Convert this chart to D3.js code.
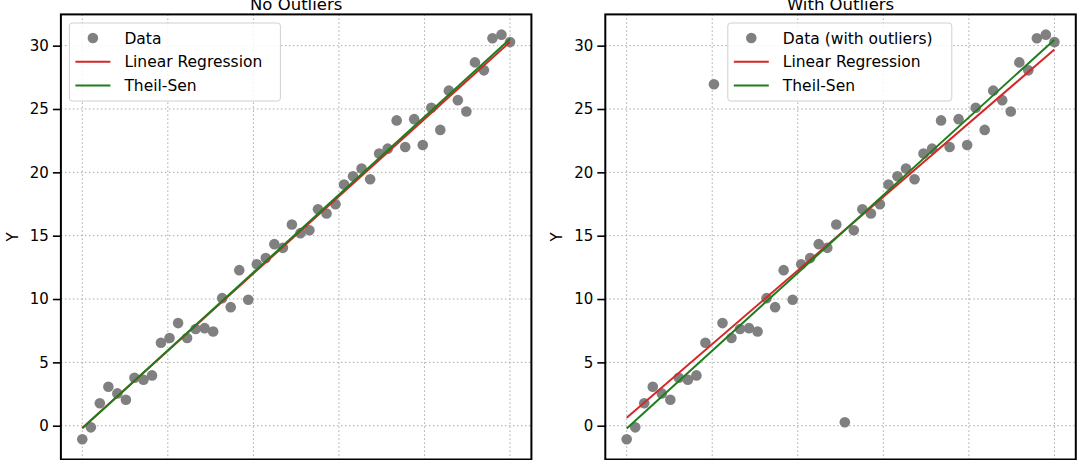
<!DOCTYPE html>
<html>
<head>
<meta charset="utf-8">
<script src="https://cdn.jsdelivr.net/npm/d3@7"></script>
<style>
  body { margin: 0; background: #fff; }
  svg text { font-family: "DejaVu Sans", sans-serif; fill: #000; }
</style>
</head>
<body>
<div id="chart"></div>
<script>
// ---------------------------------------------------------------- DATA
var xValues = [0.00, 0.20, 0.41, 0.61, 0.82, 1.02, 1.22, 1.43, 1.63, 1.84,
               2.04, 2.24, 2.45, 2.65, 2.86, 3.06, 3.27, 3.47, 3.67, 3.88,
               4.08, 4.29, 4.49, 4.69, 4.90, 5.10, 5.31, 5.51, 5.71, 5.92,
               6.12, 6.33, 6.53, 6.73, 6.94, 7.14, 7.35, 7.55, 7.76, 7.96,
               8.16, 8.37, 8.57, 8.78, 8.98, 9.18, 9.39, 9.59, 9.80, 10.00];

var yClean = [-1.07, -0.13, 1.77, 3.08, 2.55, 2.05, 3.79, 3.63, 3.97, 6.55,
              6.92, 8.10, 6.92, 7.63, 7.70, 7.44, 10.07, 9.36, 12.28, 9.94,
              12.75, 13.23, 14.33, 14.04, 15.88, 15.20, 15.43, 17.09, 16.75, 17.48,
              19.04, 19.69, 20.30, 19.46, 21.48, 21.87, 24.10, 22.00, 24.20, 22.16,
              25.10, 23.35, 26.45, 25.70, 24.80, 28.68, 28.05, 30.58, 30.87, 30.28];

var yOutliers = [-1.07, -0.13, 1.77, 3.08, 2.55, 2.05, 3.79, 3.63, 3.97, 6.55,
                 26.95, 8.10, 6.92, 7.63, 7.70, 7.44, 10.07, 9.36, 12.28, 9.94,
                 12.75, 13.23, 14.33, 14.04, 15.88, 0.27, 15.43, 17.09, 16.75, 17.48,
                 19.04, 19.69, 20.30, 19.46, 21.48, 21.87, 24.10, 22.00, 24.20, 22.16,
                 25.10, 23.35, 26.45, 25.70, 24.80, 28.68, 28.05, 30.58, 30.87, 30.28];

var xTicks = [0, 2, 4, 6, 8, 10];
var yTicks = [0, 5, 10, 15, 20, 25, 30];

var panelTitles = ["No Outliers", "With Outliers"];
var dataLabels = ["Data", "Data (with outliers)"];
var lineLabels = ["Linear Regression", "Theil-Sen"];

// ---------------------------------------------------------------- FITS
function linearFit(xs, ys) {
  var mx = d3.mean(xs), my = d3.mean(ys);
  var sxy = 0, sxx = 0;
  for (var i = 0; i < xs.length; i++) {
    sxy += (xs[i] - mx) * (ys[i] - my);
    sxx += (xs[i] - mx) * (xs[i] - mx);
  }
  var slope = sxy / sxx;
  return { slope: slope, intercept: my - slope * mx };
}

// Theil-Sen: spatial median of all pairwise (intercept, slope) solutions
function theilSen(xs, ys) {
  var pts = [];
  for (var i = 0; i < xs.length; i++) {
    for (var j = i + 1; j < xs.length; j++) {
      var s = (ys[j] - ys[i]) / (xs[j] - xs[i]);
      pts.push([ys[i] - s * xs[i], s]);
    }
  }
  var b = d3.median(pts, function(p) { return p[0]; });
  var m = d3.median(pts, function(p) { return p[1]; });
  for (var it = 0; it < 300; it++) {
    var nb = 0, nm = 0, w = 0;
    pts.forEach(function(p) {
      var d = Math.hypot(p[0] - b, p[1] - m);
      if (d < 1e-9) return;
      nb += p[0] / d; nm += p[1] / d; w += 1 / d;
    });
    b = nb / w; m = nm / w;
  }
  return { slope: m, intercept: b };
}

// ---------------------------------------------------------------- DRAW
var W = 1080, H = 460;
var svg = d3.select("#chart").append("svg")
  .attr("width", W).attr("height", H);

var yAll = yClean.concat(yOutliers);
var yMin = d3.min(yAll), yMax = d3.max(yAll);
var yPad = (yMax - yMin) * 0.05;
var y = d3.scaleLinear().domain([yMin - yPad, yMax + yPad]).range([459.5, 14.4]);

var panels = [
  { left: 60.9, ys: yClean, title: panelTitles[0], dataLabel: dataLabels[0], legendW: 211 },
  { left: 605.3, ys: yOutliers, title: panelTitles[1], dataLabel: dataLabels[1], legendW: 224 }
];

var red = "#d62728", green = "#1e7d1e", grey = "#808080";

panels.forEach(function(p) {
  var x = d3.scaleLinear().domain([-0.5, 10.5]).range([p.left, p.left + 470.5]);
  var g = svg.append("g");

  // grid
  g.selectAll(".gx").data(xTicks).enter().append("line")
    .attr("x1", function(d) { return x(d); }).attr("x2", function(d) { return x(d); })
    .attr("y1", y.range()[1]).attr("y2", y.range()[0])
    .attr("stroke", "#a8a8a8").attr("stroke-width", 1).attr("stroke-dasharray", "1.5,2.5");
  g.selectAll(".gy").data(yTicks).enter().append("line")
    .attr("y1", function(d) { return y(d); }).attr("y2", function(d) { return y(d); })
    .attr("x1", x.range()[0]).attr("x2", x.range()[1])
    .attr("stroke", "#a8a8a8").attr("stroke-width", 1).attr("stroke-dasharray", "1.5,2.5");

  // points
  var pts = p.ys.map(function(v, i) { return [xValues[i], v]; });
  g.selectAll("circle").data(pts).enter().append("circle")
    .attr("cx", function(d) { return x(d[0]); })
    .attr("cy", function(d) { return y(d[1]); })
    .attr("r", 5.3).attr("fill", grey);

  // fits
  var lr = linearFit(xValues, p.ys);
  var ts = theilSen(xValues, p.ys);
  var x0 = d3.min(xValues), x1 = d3.max(xValues);
  [[lr, red], [ts, green]].forEach(function(f) {
    g.append("line")
      .attr("x1", x(x0)).attr("y1", y(f[0].intercept + f[0].slope * x0))
      .attr("x2", x(x1)).attr("y2", y(f[0].intercept + f[0].slope * x1))
      .attr("stroke", f[1]).attr("stroke-width", 2);
  });

  // axes (x tick labels fall below the visible area, so only tick marks)
  var yAxis = d3.axisLeft(y).tickValues(yTicks).tickSize(8).tickPadding(4).tickFormat(d3.format("d"));
  var ya = g.append("g").attr("transform", "translate(" + x.range()[0] + ",0)").call(yAxis);
  ya.select(".domain").remove();
  ya.selectAll(".tick line").attr("stroke", "#000").attr("stroke-width", 1.6);
  ya.selectAll(".tick text").attr("font-size", 15).attr("font-family", "DejaVu Sans");

  var xAxis = d3.axisBottom(x).tickValues(xTicks).tickSize(8).tickFormat("");
  var xa = g.append("g").attr("transform", "translate(0," + y.range()[0] + ")").call(xAxis);
  xa.select(".domain").remove();
  xa.selectAll(".tick line").attr("stroke", "#000").attr("stroke-width", 1.6);

  // frame
  g.append("rect")
    .attr("x", x.range()[0]).attr("y", y.range()[1])
    .attr("width", x.range()[1] - x.range()[0]).attr("height", y.range()[0] - y.range()[1])
    .attr("fill", "none").attr("stroke", "#000").attr("stroke-width", 2);

  // title and y label
  g.append("text").attr("x", (x.range()[0] + x.range()[1]) / 2).attr("y", 9.5)
    .attr("text-anchor", "middle").attr("font-size", 16.5).text(p.title);
  g.append("text")
    .attr("transform", "translate(" + (x.range()[0] - 43) + "," + ((y.range()[0] + y.range()[1]) / 2) + ") rotate(-90)")
    .attr("text-anchor", "middle").attr("font-size", 15).text("Y");

  // legend
  var lx = p.left + 8.5, ly = 23;
  if (p.left > 300) lx = p.left + 122.5;
  var leg = g.append("g").attr("transform", "translate(" + lx + "," + ly + ")");
  leg.append("rect").attr("width", p.legendW).attr("height", 78).attr("rx", 3)
    .attr("fill", "#fff").attr("fill-opacity", 0.85).attr("stroke", "#d0d0d0");
  var items = [
    { label: p.dataLabel, type: "dot", color: grey },
    { label: lineLabels[0], type: "line", color: red },
    { label: lineLabels[1], type: "line", color: green }
  ];
  items.forEach(function(it, i) {
    var cy = 15 + i * 23.8;
    if (it.type === "dot") {
      leg.append("circle").attr("cx", 23.5).attr("cy", cy).attr("r", 5.3).attr("fill", it.color);
    } else {
      leg.append("line").attr("x1", 6).attr("x2", 41).attr("y1", cy).attr("y2", cy)
        .attr("stroke", it.color).attr("stroke-width", 2);
    }
    leg.append("text").attr("x", 55).attr("y", cy + 5.5).attr("font-size", 15.5).text(it.label);
  });
});
</script>
</body>
</html>
